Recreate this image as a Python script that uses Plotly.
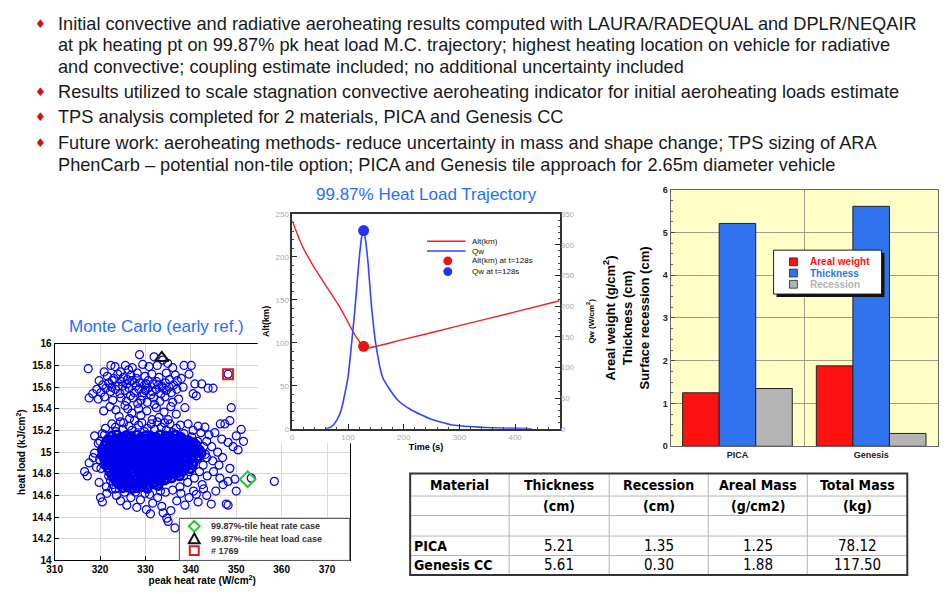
import plotly.graph_objects as go

# The page keeps the browser's default 8px body margin, so the figure is made
# 16px smaller than the 947x594 window and every reference pixel is shifted by 8.
W, H = 931, 578
OFF = 8


def px(x):
    return min(max((x - OFF) / W, 0), 1)


def py(y):
    return min(max(1 - (y - OFF) / H, 0), 1)


FONT = "Liberation Sans, Arial, sans-serif"
TFONT = "DejaVu Sans Condensed, DejaVu Sans, sans-serif"
TITLE_BLUE = "#1f6fff"

# ---------------- data ----------------
bullet_lines = [
    (True, "Initial convective and radiative aeroheating results computed with LAURA/RADEQUAL and DPLR/NEQAIR"),
    (False, "at pk heating pt on 99.87% pk heat load M.C. trajectory; highest heating location on vehicle for radiative"),
    (False, "and convective; coupling estimate included; no additional uncertainty included"),
    (True, "Results utilized to scale stagnation convective aeroheating indicator for initial aeroheating loads estimate"),
    (True, "TPS analysis completed for 2 materials, PICA and Genesis CC"),
    (True, "Future work: aeroheating methods- reduce uncertainty in mass and shape change; TPS sizing of ARA"),
    (False, "PhenCarb \u2013 potential non-tile option; PICA and Genesis tile approach for 2.65m diameter vehicle"),
]
bullet_y = [18, 40, 62, 88, 114, 140, 163]

# Monte Carlo dispersion (peak heat rate W/cm2, heat load kJ/cm2): scattered cases
mc_points = [
    (328.7, 15.90), (331.9, 15.88), (333.8, 15.85), (322.4, 15.80), (323.3, 15.79), (325.6, 15.80),
    (327.1, 15.78), (329.4, 15.81), (330.8, 15.79), (332.6, 15.80), (334.9, 15.82), (336.0, 15.78),
    (338.5, 15.80), (340.1, 15.80), (317.4, 15.77), (326.3, 15.76), (324.5, 15.74), (320.9, 15.74),
    (321.6, 15.70), (323.9, 15.72), (325.1, 15.69), (326.8, 15.71), (328.2, 15.73), (329.9, 15.70),
    (331.4, 15.72), (333.0, 15.69), (334.6, 15.73), (336.6, 15.71), (337.9, 15.68), (339.6, 15.72),
    (319.8, 15.66), (320.6, 15.62), (321.9, 15.64), (322.7, 15.66), (324.0, 15.61), (324.8, 15.65),
    (325.9, 15.63), (327.0, 15.66), (327.9, 15.61), (328.8, 15.64), (329.8, 15.62), (330.6, 15.66),
    (331.7, 15.63), (332.5, 15.65), (333.6, 15.61), (334.4, 15.64), (335.3, 15.67), (336.2, 15.62),
    (337.0, 15.66), (338.3, 15.60), (340.9, 15.63), (342.4, 15.63), (343.8, 15.59), (344.9, 15.59),
    (318.4, 15.54), (319.3, 15.58), (320.2, 15.55), (321.3, 15.59), (322.3, 15.56), (323.4, 15.58),
    (324.4, 15.54), (325.5, 15.57), (326.4, 15.59), (327.5, 15.55), (328.6, 15.58), (329.6, 15.55),
    (330.5, 15.59), (331.5, 15.56), (332.4, 15.58), (333.4, 15.54), (334.6, 15.57), (335.7, 15.55),
    (336.9, 15.58), (340.5, 15.54), (341.2, 15.52), (317.6, 15.50), (319.6, 15.49), (321.0, 15.51),
    (322.8, 15.48), (324.6, 15.50), (325.8, 15.47), (327.3, 15.50), (329.0, 15.48), (330.4, 15.46),
    (331.8, 15.50), (333.2, 15.47), (334.3, 15.51), (336.0, 15.46), (337.3, 15.49), (332.0, 15.44),
    (320.8, 15.38), (322.2, 15.42), (323.5, 15.39), (325.5, 15.43), (327.0, 15.36), (328.5, 15.40),
    (330.3, 15.38), (332.4, 15.41), (334.1, 15.37), (335.6, 15.42), (338.7, 15.41), (348.9, 15.41),
    (336.8, 15.35), (324.2, 15.33), (326.5, 15.31), (329.0, 15.34), (331.5, 15.30), (333.0, 15.32),
    (335.0, 15.30), (348.2, 15.72), (323.0, 15.68), (326.0, 15.67), (328.0, 15.68), (330.2, 15.63),
    (332.9, 15.62), (335.2, 15.60), (322.6, 15.60), (325.0, 15.61), (327.6, 15.64), (330.0, 15.57),
    (333.9, 15.59), (326.7, 15.52), (329.3, 15.52), (331.2, 15.53), (328.3, 15.45), (326.1, 15.40),
    (318.8, 15.15), (320.5, 15.17), (321.2, 15.22), (322.6, 15.26), (323.4, 15.23), (324.5, 15.28),
    (325.2, 15.27), (326.4, 15.24), (327.6, 15.29), (328.5, 15.25), (329.2, 15.27), (330.4, 15.22),
    (331.3, 15.26), (332.6, 15.28), (333.5, 15.23), (334.2, 15.27), (335.4, 15.26), (336.8, 15.22),
    (337.7, 15.25), (339.4, 15.26), (340.5, 15.20), (341.6, 15.24), (342.2, 15.18), (343.1, 15.23),
    (344.0, 15.16), (345.3, 15.18), (346.5, 15.26), (347.5, 15.26), (348.6, 15.29), (350.0, 15.15),
    (351.1, 15.21), (351.6, 15.10), (348.2, 15.09), (349.3, 15.05), (350.4, 15.02), (346.8, 15.12),
    (343.5, 15.10), (344.6, 15.05), (345.9, 15.00), (347.0, 14.95), (348.6, 14.85), (346.2, 14.88),
    (344.8, 14.92), (343.2, 14.98), (345.0, 14.82), (346.4, 14.76), (347.1, 14.70), (348.2, 14.73),
    (349.7, 14.75), (350.0, 14.64), (343.6, 14.78), (342.5, 14.70), (320.1, 14.58), (320.5, 14.54),
    (321.5, 14.62), (322.6, 14.66), (323.6, 14.60), (324.5, 14.55), (325.9, 14.51), (326.8, 14.58),
    (328.1, 14.49), (328.9, 14.56), (329.9, 14.62), (331.1, 14.43), (331.6, 14.53), (332.7, 14.58),
    (333.6, 14.50), (334.7, 14.39), (335.0, 14.36), (336.5, 14.30), (335.6, 14.46), (336.9, 14.55),
    (337.8, 14.62), (338.7, 14.51), (339.6, 14.58), (340.6, 14.64), (341.2, 14.61), (341.6, 14.54),
    (342.8, 14.66), (343.5, 14.60), (344.5, 14.52), (345.5, 14.64), (347.8, 14.52), (348.2, 14.51),
    (333.9, 14.44), (330.2, 14.47), (316.6, 14.82), (317.2, 14.78), (317.6, 14.90), (318.5, 14.95),
    (319.2, 14.86), (319.8, 14.72), (320.3, 15.02), (320.9, 14.92), (321.4, 14.68), (319.6, 15.08),
    (318.8, 14.99), (358.4, 14.73), (353.3, 14.76), (336.0, 15.18), (338.5, 15.17), (340.2, 15.14),
    (341.5, 15.10), (342.8, 15.05), (343.5, 14.95), (342.7, 14.88), (341.9, 14.82), (340.8, 14.76),
    (339.3, 14.72), (337.6, 14.68), (336.0, 14.65), (334.4, 14.63), (321.9, 14.78), (322.3, 14.74),
    (322.8, 14.70), (323.4, 14.66), (320.2, 14.85), (319.9, 14.93), (320.0, 15.10), (321.0, 15.16),
    (325.0, 15.21), (327.0, 15.20), (329.8, 15.19), (332.0, 15.21), (334.6, 15.20), (323.5, 15.19),
    (327.8, 14.63), (330.9, 14.61), (333.3, 14.64), (325.4, 14.63), (338.4, 14.78), (339.6, 14.82),
]

# Monte Carlo dispersion: dense core of cases
mc_core_points = [
    (322.6, 15.15), (323.7, 15.16), (324.9, 15.14), (325.8, 15.155), (326.9, 15.145), (328.1, 15.16),
    (329.0, 15.14), (330.2, 15.155), (331.1, 15.15), (332.3, 15.14), (333.2, 15.16), (334.4, 15.15),
    (335.5, 15.145), (336.6, 15.16), (337.8, 15.14),
    (321.8, 15.12), (322.9, 15.11), (324.0, 15.125), (325.1, 15.115), (326.2, 15.13), (327.2, 15.12),
    (328.4, 15.11), (329.5, 15.125), (330.5, 15.12), (331.6, 15.13), (332.8, 15.115), (333.8, 15.12),
    (334.9, 15.13), (336.0, 15.11), (337.1, 15.125), (338.2, 15.12), (339.4, 15.11),
    (321.3, 15.09), (322.4, 15.095), (323.4, 15.085), (324.6, 15.09), (325.6, 15.10), (326.7, 15.085),
    (327.8, 15.09), (328.9, 15.095), (329.9, 15.08), (331.0, 15.09), (332.1, 15.10), (333.2, 15.085),
    (334.3, 15.09), (335.3, 15.095), (336.5, 15.08), (337.6, 15.09), (338.6, 15.10), (339.7, 15.085),
    (340.6, 15.09),
    (321.0, 15.06), (322.1, 15.065), (323.1, 15.055), (324.2, 15.06), (325.2, 15.07), (326.3, 15.055),
    (327.4, 15.06), (328.4, 15.065), (329.5, 15.05), (330.6, 15.06), (331.6, 15.07), (332.7, 15.055),
    (333.8, 15.06), (334.8, 15.065), (335.9, 15.05), (337.0, 15.06), (338.1, 15.07), (339.1, 15.055),
    (340.2, 15.06), (341.2, 15.065),
    (320.6, 15.03), (321.7, 15.035), (322.7, 15.025), (323.8, 15.03), (324.9, 15.04), (325.9, 15.025),
    (327.0, 15.03), (328.1, 15.035), (329.1, 15.02), (330.2, 15.03), (331.2, 15.04), (332.3, 15.025),
    (333.4, 15.03), (334.5, 15.035), (335.5, 15.02), (336.6, 15.03), (337.7, 15.04), (338.7, 15.025),
    (339.8, 15.03), (340.8, 15.035), (341.9, 15.02),
    (320.9, 15.00), (322.0, 15.005), (323.1, 14.995), (324.1, 15.00), (325.2, 15.01), (326.3, 14.995),
    (327.3, 15.00), (328.4, 15.005), (329.5, 14.99), (330.5, 15.00), (331.6, 15.01), (332.6, 14.995),
    (333.7, 15.00), (334.8, 15.005), (335.8, 14.99), (336.9, 15.00), (338.0, 15.01), (339.0, 14.995),
    (340.1, 15.00), (341.2, 15.005), (342.3, 14.99),
    (320.5, 14.97), (321.6, 14.975), (322.6, 14.965), (323.7, 14.97), (324.8, 14.98), (325.8, 14.965),
    (326.9, 14.97), (328.0, 14.975), (329.0, 14.96), (330.1, 14.97), (331.1, 14.98), (332.2, 14.965),
    (333.3, 14.97), (334.3, 14.975), (335.4, 14.96), (336.5, 14.97), (337.5, 14.98), (338.6, 14.965),
    (339.7, 14.97), (340.7, 14.975), (341.8, 14.96),
    (321.0, 14.94), (322.1, 14.945), (323.2, 14.935), (324.2, 14.94), (325.3, 14.95), (326.4, 14.935),
    (327.4, 14.94), (328.5, 14.945), (329.6, 14.93), (330.6, 14.94), (331.7, 14.95), (332.7, 14.935),
    (333.8, 14.94), (334.9, 14.945), (335.9, 14.93), (337.0, 14.94), (338.1, 14.95), (339.1, 14.935),
    (340.2, 14.94), (341.3, 14.945),
    (321.4, 14.91), (322.5, 14.915), (323.5, 14.905), (324.6, 14.91), (325.7, 14.92), (326.7, 14.905),
    (327.8, 14.91), (328.9, 14.915), (329.9, 14.90), (331.0, 14.91), (332.0, 14.92), (333.1, 14.905),
    (334.2, 14.91), (335.2, 14.915), (336.3, 14.90), (337.4, 14.91), (338.4, 14.92), (339.5, 14.905),
    (340.6, 14.91),
    (321.2, 14.88), (322.3, 14.885), (323.3, 14.875), (324.4, 14.88), (325.5, 14.89), (326.5, 14.875),
    (327.6, 14.88), (328.7, 14.885), (329.7, 14.87), (330.8, 14.88), (331.8, 14.89), (332.9, 14.875),
    (334.0, 14.88), (335.0, 14.885), (336.1, 14.87), (337.2, 14.88), (338.2, 14.89), (339.3, 14.875),
    (340.4, 14.88),
    (321.8, 14.85), (322.8, 14.855), (323.9, 14.845), (325.0, 14.85), (326.0, 14.86), (327.1, 14.845),
    (328.2, 14.85), (329.2, 14.855), (330.3, 14.84), (331.3, 14.85), (332.4, 14.86), (333.5, 14.845),
    (334.5, 14.85), (335.6, 14.855), (336.7, 14.84), (337.7, 14.85), (338.8, 14.86), (339.9, 14.845),
    (322.1, 14.82), (323.2, 14.825), (324.2, 14.815), (325.3, 14.82), (326.4, 14.83), (327.4, 14.815),
    (328.5, 14.82), (329.6, 14.825), (330.6, 14.81), (331.7, 14.82), (332.7, 14.83), (333.8, 14.815),
    (334.9, 14.82), (335.9, 14.825), (337.0, 14.81), (338.1, 14.82),
    (322.6, 14.79), (323.7, 14.795), (324.7, 14.785), (325.8, 14.79), (326.9, 14.80), (327.9, 14.785),
    (329.0, 14.79), (330.1, 14.795), (331.1, 14.78), (332.2, 14.79), (333.2, 14.80), (334.3, 14.785),
    (335.4, 14.79), (336.4, 14.795), (337.5, 14.78),
    (323.0, 14.76), (324.1, 14.765), (325.1, 14.755), (326.2, 14.76), (327.3, 14.77), (328.3, 14.755),
    (329.4, 14.76), (330.5, 14.765), (331.5, 14.75), (332.6, 14.76), (333.6, 14.77), (334.7, 14.755),
    (335.8, 14.76),
    (323.6, 14.73), (324.7, 14.735), (325.7, 14.725), (326.8, 14.73), (327.9, 14.74), (328.9, 14.725),
    (330.0, 14.73), (331.1, 14.735), (332.1, 14.72), (333.2, 14.73), (334.2, 14.74),
    (324.3, 14.70), (325.4, 14.705), (326.4, 14.695), (327.5, 14.70), (328.6, 14.71), (329.6, 14.695),
    (330.7, 14.70), (331.8, 14.705), (332.8, 14.69),
    (325.0, 14.67), (326.1, 14.675), (327.2, 14.665), (328.2, 14.67), (329.3, 14.68), (330.4, 14.665),
]
mc_rate = [p[0] for p in mc_points]
mc_load = [p[1] for p in mc_points]
mc_core_rate = [p[0] for p in mc_core_points]
mc_core_load = [p[1] for p in mc_core_points]

case_names = ["99.87%-tile heat rate case", "99.87%-tile heat load case", "# 1769"]
case_rate = [352.5, 333.6, 348.2]
case_load = [14.75, 15.87, 15.72]

# 99.87% heat-load trajectory
alt_time = [0, 10, 20, 30, 40, 50, 60, 70, 80, 90, 100, 110, 120, 128, 134, 200, 300, 400, 480]
alt_km = [242, 225, 210, 198, 187, 177, 167, 157, 147, 136, 124, 112, 102, 96, 94, 104, 120, 136, 149]
qw_time = [60, 70, 80, 88, 95, 100, 106, 112, 117, 121, 125, 128, 131, 136, 142, 150, 162,
           175, 190, 213, 248, 288, 347, 407, 430]
qw_val = [0, 3, 14, 31, 60, 84, 135, 191, 245, 286, 315, 323, 310, 270, 201, 137, 84,
          64, 46, 31, 16, 6, 2, 0.5, 0]
pk_time = 128
pk_alt = 96
pk_qw = 323

# TPS sizing
materials = ["PICA", "Genesis CC"]
bar_categories = ["PICA", "Genesis"]
thickness = [5.21, 5.61]
recession = [1.35, 0.30]
areal_mass = [1.25, 1.88]
total_mass = [78.12, 117.50]
table_header = ["Material", "Thickness", "Recession", "Areal Mass", "Total Mass"]
table_units = ["", "(cm)", "(cm)", "(g/cm2)", "(kg)"]

# ---------------- figure ----------------
fig = go.Figure()

fig.add_trace(go.Scatter(
    x=mc_rate, y=mc_load, mode="markers", xaxis="x", yaxis="y", showlegend=False, name="M.C. cases",
    marker=dict(symbol="circle-open", size=8, color="#0000ee", line=dict(width=1.2, color="#0000ee")),
))
fig.add_trace(go.Scatter(
    x=mc_core_rate, y=mc_core_load, mode="markers", xaxis="x", yaxis="y", showlegend=False, name="M.C. cases",
    marker=dict(symbol="circle-open", size=8, color="#0000ee", line=dict(width=2.6, color="#0000ee")),
))
case_styles = [("diamond-open", "#22cc22", 12), ("triangle-up-open", "#111111", 12), ("square-open", "#cc2222", 10)]
for i in range(3):
    sym, col, sz = case_styles[i]
    fig.add_trace(go.Scatter(
        x=[case_rate[i]], y=[case_load[i]], mode="markers", name=case_names[i],
        xaxis="x", yaxis="y", showlegend=False,
        marker=dict(symbol=sym, size=sz, color=col, line=dict(width=2, color=col)),
    ))

# empty panel whose background hides the part of the M.C. plot lying behind the trajectory chart
fig.add_trace(go.Scatter(x=[None], y=[None], xaxis="x2", yaxis="y2", showlegend=False, hoverinfo="skip"))

fig.add_trace(go.Scatter(x=alt_time, y=alt_km, mode="lines", name="Alt(km)", xaxis="x3", yaxis="y3",
                         showlegend=False, line=dict(color="#ee2222", width=1.4, shape="spline", smoothing=0.6)))
fig.add_trace(go.Scatter(x=qw_time, y=qw_val, mode="lines", name="Qw", xaxis="x3", yaxis="y4",
                         showlegend=False, line=dict(color="#3344ff", width=1.6, shape="spline", smoothing=0.5)))
fig.add_trace(go.Scatter(x=[pk_time], y=[pk_alt], mode="markers", name="Alt(km) at t=128s", xaxis="x3",
                         yaxis="y3", showlegend=False, marker=dict(color="#ee1111", size=11)))
fig.add_trace(go.Scatter(x=[pk_time], y=[pk_qw], mode="markers", name="Qw at t=128s", xaxis="x3",
                         yaxis="y4", showlegend=False, marker=dict(color="#2233ff", size=11)))

bar_specs = [("Areal weight", areal_mass, "#ff1111"), ("Thickness", thickness, "#2f74ee"),
             ("Recession", recession, "#b4b4b4")]
for name, vals, col in bar_specs:
    fig.add_trace(go.Bar(x=bar_categories, y=vals, name=name, xaxis="x5", yaxis="y5", showlegend=False,
                         marker=dict(color=col, line=dict(color="#222222", width=1))))

# ---------------- layout ----------------
tick_bold = dict(family=FONT, size=10, color="black", weight="bold")
gray_tick = dict(family=FONT, size=8, color="#aaaaaa")

layout = dict(
    width=W, height=H, margin=dict(l=0, r=0, t=0, b=0), autosize=False,
    paper_bgcolor="white", plot_bgcolor="white", font=dict(family=FONT),
    barmode="group", bargap=0.18, bargroupgap=0.0, hovermode=False,
    xaxis=dict(domain=[px(47), px(345)], range=[310, 375], tick0=310, dtick=10, anchor="y",
               ticks="inside", ticklen=4, tickcolor="black", showline=True, mirror=True,
               linecolor="black", linewidth=1, showgrid=True, gridcolor="#d9d9d9", zeroline=False,
               tickfont=tick_bold,
               title=dict(text="peak heat rate (W/cm<sup>2</sup>)", standoff=4,
                          font=dict(family=FONT, size=10, color="black", weight="bold"))),
    yaxis=dict(domain=[py(568), py(346)], range=[14, 16], tick0=14, dtick=0.2, anchor="x",
               ticks="inside", ticklen=4, tickcolor="black", showline=True, mirror=True,
               linecolor="black", linewidth=1, showgrid=True, gridcolor="#d9d9d9", zeroline=False,
               tickfont=tick_bold,
               title=dict(text="heat load (kJ/cm<sup>2</sup>)", standoff=4,
                          font=dict(family=FONT, size=10, color="black", weight="bold"))),
    xaxis2=dict(domain=[px(252), px(600)], anchor="y2", visible=False, range=[0, 1]),
    yaxis2=dict(domain=[py(448), py(200)], anchor="x2", visible=False, range=[0, 1]),
    xaxis3=dict(domain=[px(287), px(557)], range=[0, 480], dtick=100, anchor="y3",
                ticks="inside", ticklen=5, tickcolor="#222", showline=True, mirror=True,
                linecolor="#333", linewidth=1.5, showgrid=False, zeroline=False, tickfont=gray_tick,
                minor=dict(ticks="inside", ticklen=2, dtick=20, tickcolor="#444"),
                title=dict(text="Time (s)", standoff=1,
                           font=dict(family=FONT, size=9, color="black", weight="bold"))),
    yaxis3=dict(domain=[py(433), py(213)], range=[0, 250], dtick=50, anchor="x3",
                ticks="inside", ticklen=5, tickcolor="#222", showline=True, mirror=True,
                linecolor="#333", linewidth=1.5, showgrid=False, zeroline=False, tickfont=gray_tick,
                minor=dict(ticks="inside", ticklen=2, dtick=10, tickcolor="#444"),
                title=dict(text="Alt(km)", standoff=4,
                           font=dict(family=FONT, size=9, color="black", weight="bold"))),
    yaxis4=dict(range=[0, 350], dtick=50, anchor="x3", overlaying="y3", side="right",
                ticks="inside", ticklen=5, tickcolor="#222", showline=False, showgrid=False,
                zeroline=False, tickfont=gray_tick,
                minor=dict(ticks="inside", ticklen=2, dtick=10, tickcolor="#444"),
                title=dict(text="Qw (W/cm<sup>2</sup>)", standoff=14,
                           font=dict(family=FONT, size=8, color="black", weight="bold"))),
    xaxis5=dict(domain=[px(669), px(939)], anchor="y5", type="category", tickson="boundaries",
                ticks="", showline=True, mirror=True, linecolor="#666", linewidth=1.2,
                showgrid=True, gridcolor="#a0a088", gridwidth=1, zeroline=False,
                tickfont=dict(family=FONT, size=9, color="#222", weight="bold")),
    yaxis5=dict(domain=[py(451), py(188)], range=[0, 6], dtick=1, anchor="x5",
                ticks="inside", ticklen=4, tickcolor="#444", showline=True, mirror=True,
                linecolor="#666", linewidth=1.2, showgrid=True, gridcolor="#a0a088", gridwidth=1,
                zeroline=False, tickfont=dict(family=FONT, size=9, color="#222", weight="bold"),
                minor=dict(ticks="inside", ticklen=2, dtick=0.25, tickcolor="#666"),
                title=dict(text="Areal weight (g/cm<sup>2</sup>)<br>Thickness (cm)<br>Surface recession (cm)",
                           standoff=10, font=dict(family=FONT, size=13, color="black", weight="bold"))),
)
fig.update_layout(**layout)

shapes = []
annotations = []

# bar chart pale-yellow background
shapes.append(dict(type="rect", xref="x5 domain", yref="y5 domain", x0=0, x1=1, y0=0, y1=1,
                   fillcolor="#fefec6", line=dict(width=0), layer="below"))

# bullet text
for (is_bullet, txt), yy in zip(bullet_lines, bullet_y):
    if is_bullet:
        annotations.append(dict(text="\u2666", x=px(33), y=py(yy), xref="paper", yref="paper",
                                xanchor="center", yanchor="middle", showarrow=False,
                                font=dict(family="DejaVu Sans", size=12, color="#d01010")))
    annotations.append(dict(text=txt, x=px(48), y=py(yy), xref="paper", yref="paper",
                            xanchor="left", yanchor="middle", showarrow=False,
                            font=dict(family=FONT, size=18.2, color="#1a1a1a")))

# chart titles
annotations.append(dict(text="Monte Carlo (early ref.)", x=px(150), y=py(328), xref="paper", yref="paper",
                        xanchor="center", yanchor="middle", showarrow=False,
                        font=dict(family=FONT, size=17, color=TITLE_BLUE)))
annotations.append(dict(text="99.87% Heat Load Trajectory", x=px(423), y=py(193), xref="paper",
                        yref="paper", xanchor="center", yanchor="middle", showarrow=False,
                        font=dict(family=FONT, size=17, color=TITLE_BLUE)))

# trajectory legend
traj_leg = [("Alt(km)", "#ee2222", "line", 241), ("Qw", "#3344ff", "line", 251),
            ("Alt(km) at t=128s", "#ee1111", "dot", 261), ("Qw at t=128s", "#2233ff", "dot", 272)]
for label, col, kind, yy in traj_leg:
    if kind == "line":
        shapes.append(dict(type="line", xref="paper", yref="paper", x0=px(423), x1=px(462),
                           y0=py(yy), y1=py(yy), line=dict(color=col, width=1.5), layer="above"))
    else:
        shapes.append(dict(type="circle", xref="paper", yref="paper", x0=px(439.5), x1=px(448.5),
                           y0=py(yy + 4.5), y1=py(yy - 4.5), fillcolor=col, line=dict(color=col, width=0),
                           layer="above"))
    annotations.append(dict(text=label, x=px(466), y=py(yy), xref="paper", yref="paper", xanchor="left",
                            yanchor="middle", showarrow=False, font=dict(family=FONT, size=8, color="#111")))

# M.C. legend
shapes.append(dict(type="rect", xref="paper", yref="paper", x0=px(173), x1=px(345), y0=py(568), y1=py(525),
                   fillcolor="white", line=dict(color="#555", width=1), layer="above"))
mc_leg_y = [533, 546, 558]
mx = 188
shapes.append(dict(type="path", xref="paper", yref="paper",
                   path=f"M {px(mx)},{py(mc_leg_y[0]-5.5)} L {px(mx+5.5)},{py(mc_leg_y[0])} "
                        f"L {px(mx)},{py(mc_leg_y[0]+5.5)} L {px(mx-5.5)},{py(mc_leg_y[0])} Z",
                   line=dict(color="#22cc22", width=2), layer="above"))
shapes.append(dict(type="path", xref="paper", yref="paper",
                   path=f"M {px(mx)},{py(mc_leg_y[1]-5.5)} L {px(mx+5.5)},{py(mc_leg_y[1]+4.5)} "
                        f"L {px(mx-5.5)},{py(mc_leg_y[1]+4.5)} Z",
                   line=dict(color="#111111", width=2), layer="above"))
shapes.append(dict(type="rect", xref="paper", yref="paper", x0=px(mx - 4.5), x1=px(mx + 4.5),
                   y0=py(mc_leg_y[2] + 4.5), y1=py(mc_leg_y[2] - 4.5),
                   line=dict(color="#cc2222", width=2), layer="above"))
for name, yy in zip(case_names, mc_leg_y):
    annotations.append(dict(text=name, x=px(203), y=py(yy), xref="paper", yref="paper", xanchor="left",
                            yanchor="middle", showarrow=False,
                            font=dict(family=FONT, size=9, color="#333", weight="bold")))

# bar legend with drop shadow
shapes.append(dict(type="rect", xref="paper", yref="paper", x0=px(776), x1=px(885), y0=py(298), y1=py(253),
                   fillcolor="#111", line=dict(width=0), layer="above"))
shapes.append(dict(type="rect", xref="paper", yref="paper", x0=px(773), x1=px(882), y0=py(295), y1=py(250),
                   fillcolor="white", line=dict(color="#222", width=1), layer="above"))
bar_leg_y = [262, 273.5, 285]
for (name, vals, col), yy in zip(bar_specs, bar_leg_y):
    shapes.append(dict(type="rect", xref="paper", yref="paper", x0=px(789), x1=px(797), y0=py(yy + 4),
                       y1=py(yy - 4), fillcolor=col, line=dict(color="#222", width=0.8), layer="above"))
    annotations.append(dict(text=name, x=px(808), y=py(yy), xref="paper", yref="paper", xanchor="left",
                            yanchor="middle", showarrow=False,
                            font=dict(family=FONT, size=10, color=col, weight="bold")))

# table: grid + text
tab_x = [406, 506, 607, 707, 807, 908]
tab_y = [479, 502, 522, 543, 563, 583]
for xx in tab_x[1:-1]:
    shapes.append(dict(type="line", xref="paper", yref="paper", x0=px(xx), x1=px(xx), y0=py(tab_y[0]),
                       y1=py(tab_y[-1]), line=dict(color="#b4b4b4", width=1), layer="above"))
for yy in tab_y[1:-1]:
    shapes.append(dict(type="line", xref="paper", yref="paper", x0=px(tab_x[0]), x1=px(tab_x[-1]),
                       y0=py(yy), y1=py(yy), line=dict(color="#b4b4b4", width=1), layer="above"))
shapes.append(dict(type="rect", xref="paper", yref="paper", x0=px(tab_x[0]), x1=px(tab_x[-1]),
                   y0=py(tab_y[-1]), y1=py(tab_y[0]), line=dict(color="#333", width=2), layer="above"))

col_cx = [(tab_x[i] + tab_x[i + 1]) / 2 for i in range(5)]
row_cy = [(tab_y[i] + tab_y[i + 1]) / 2 for i in range(5)]


def cell(text, col, row, bold=False, left=False):
    annotations.append(dict(
        text=("<b>" + text + "</b>") if bold else text,
        x=px(tab_x[col] + 2) if left else px(col_cx[col]), y=py(row_cy[row]),
        xref="paper", yref="paper", xanchor="left" if left else "center", yanchor="middle",
        showarrow=False, font=dict(family=TFONT, size=15 if not bold else 14, color="black")))


for c in range(5):
    cell(table_header[c], c, 0, bold=True)
    if table_units[c]:
        cell(table_units[c], c, 1, bold=True)
for r, mat in enumerate(materials):
    cell(mat, 0, 3 + r, bold=True, left=True)
    cell(f"{thickness[r]:.2f}", 1, 3 + r)
    cell(f"{recession[r]:.2f}", 2, 3 + r)
    cell(f"{areal_mass[r]:.2f}", 3, 3 + r)
    cell(f"{total_mass[r]:.2f}", 4, 3 + r)

fig.update_layout(shapes=shapes, annotations=annotations)

fig.write_html("out.html", config={"displayModeBar": False})
